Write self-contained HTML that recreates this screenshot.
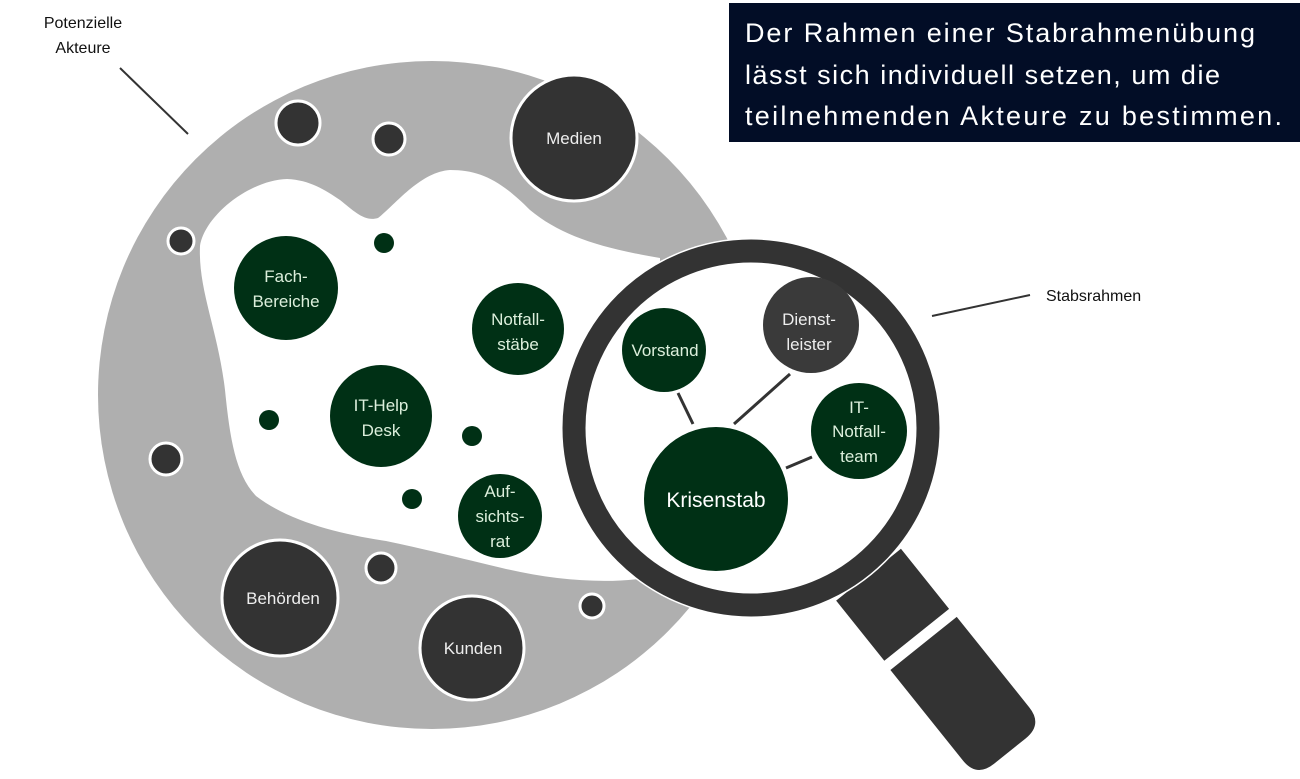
<!DOCTYPE html>
<html><head><meta charset="utf-8"><style>
html,body{margin:0;padding:0;background:#fff;width:1300px;height:779px;overflow:hidden}
svg{display:block}
text{font-family:"Liberation Sans",sans-serif}
.g{fill:#dcefdc;font-size:17px;text-anchor:middle}
.d{fill:#eeeeee;font-size:17px;text-anchor:middle}
</style></head><body>
<svg width="1300" height="779" viewBox="0 0 1300 779">
<circle cx="432" cy="395" r="334" fill="#afafaf"/>
<path d="M200,246 C205,215 250,180 287,179 C310,180 325,190 340,200 C355,212 365,222 378,218 C395,205 420,172 450,170 C480,170 500,180 530,210 C560,235 600,248 660,258 L660,575 C620,585 560,582 502,568 C460,558 420,548 386,541 C340,534 290,522 256,496 C236,475 230,440 225,390 C218,330 198,290 200,246 Z" fill="#fff"/>
<g fill="#333" stroke="#fff" stroke-width="3">
<circle cx="574" cy="138" r="63"/>
<circle cx="298" cy="123" r="22"/>
<circle cx="389" cy="139" r="16"/>
<circle cx="181" cy="241" r="13"/>
<circle cx="166" cy="459" r="16"/>
<circle cx="381" cy="568" r="15"/>
<circle cx="592" cy="606" r="12"/>
<circle cx="280" cy="598" r="58"/>
<circle cx="472" cy="648" r="52"/>
</g>
<g fill="#003015">
<circle cx="286" cy="288" r="52"/>
<circle cx="518" cy="329" r="46"/>
<circle cx="381" cy="416" r="51"/>
<circle cx="500" cy="516" r="42"/>
<circle cx="384" cy="243" r="10"/>
<circle cx="269" cy="420" r="10"/>
<circle cx="472" cy="436" r="10"/>
<circle cx="412" cy="499" r="10"/>
</g>
<text class="d" x="574" y="144">Medien</text>
<text class="d" x="283" y="604">Behörden</text>
<text class="d" x="473" y="654">Kunden</text>
<text class="g" x="286" y="282">Fach-</text><text class="g" x="286" y="307">Bereiche</text>
<text class="g" x="518" y="325">Notfall-</text><text class="g" x="518" y="350">stäbe</text>
<text class="g" x="381" y="411">IT-Help</text><text class="g" x="381" y="436">Desk</text>
<text class="g" x="500" y="497">Auf-</text><text class="g" x="500" y="522">sichts-</text><text class="g" x="500" y="547">rat</text>
<g transform="translate(751,428) rotate(51.3)">
<rect x="187" y="-42.5" width="79" height="85" fill="#333" stroke="#fff" stroke-width="2"/>
<path d="M276,-42.5 H392 Q414,-42.5 414,-20 V20 Q414,42.5 392,42.5 H276 Z" fill="#333"/>
</g>
<circle cx="751" cy="428" r="190" fill="#fff"/>
<circle cx="751" cy="428" r="177" fill="none" stroke="#333" stroke-width="23"/>
<g stroke="#333" stroke-width="3">
<line x1="678" y1="393" x2="693" y2="424"/>
<line x1="734" y1="424" x2="790" y2="374"/>
<line x1="786" y1="468" x2="812" y2="457"/>
</g>
<circle cx="811" cy="325" r="48" fill="#3a3a3a"/>
<g fill="#003015">
<circle cx="664" cy="350" r="42"/>
<circle cx="859" cy="431" r="48"/>
<circle cx="716" cy="499" r="72"/>
</g>
<text class="d" x="809" y="325">Dienst-</text><text class="d" x="809" y="350">leister</text>
<text class="g" x="665" y="356">Vorstand</text>
<text class="g" x="859" y="413">IT-</text><text class="g" x="859" y="437">Notfall-</text><text class="g" x="859" y="462">team</text>
<text x="716" y="507" fill="#fff" font-size="21" text-anchor="middle">Krisenstab</text>
<text x="83" y="28" font-size="16" text-anchor="middle" fill="#111">Potenzielle</text>
<text x="83" y="53" font-size="16" text-anchor="middle" fill="#111">Akteure</text>
<line x1="120" y1="68" x2="188" y2="134" stroke="#333" stroke-width="2"/>
<text x="1046" y="301" font-size="16" fill="#111">Stabsrahmen</text>
<line x1="932" y1="316" x2="1030" y2="295" stroke="#333" stroke-width="2"/>
<rect x="729" y="3" width="571" height="139" fill="#020d26"/>
<text x="745" y="42" font-size="27" fill="#fff" textLength="510" lengthAdjust="spacing">Der Rahmen einer Stabrahmenübung</text>
<text x="745" y="84" font-size="27" fill="#fff" textLength="475" lengthAdjust="spacing">lässt sich individuell setzen, um die</text>
<text x="745" y="125" font-size="27" fill="#fff" textLength="537" lengthAdjust="spacing">teilnehmenden Akteure zu bestimmen.</text>
</svg>
</body></html>
